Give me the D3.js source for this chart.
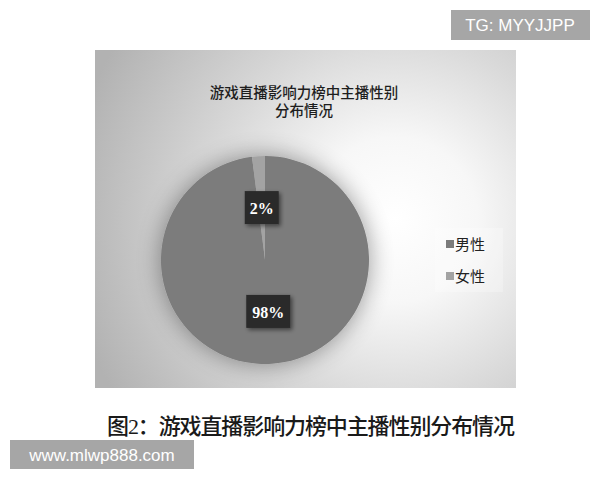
<!DOCTYPE html>
<html>
<head>
<meta charset="utf-8">
<script src="https://cdn.jsdelivr.net/npm/d3@7"></script>
<style>
  body { margin: 0; background: #fff; }
  svg { display: block; }
</style>
</head>
<body>
<svg width="600" height="480"></svg>
<script>
// data
const categories = ["男性", "女性"];
const shares = [98, 2];
const sliceColors = ["#7b7b7b", "#a3a3a3"];
const titleLines = ["游戏直播影响力榜中主播性别", "分布情况"];
const caption = "图2：游戏直播影响力榜中主播性别分布情况";

const svg = d3.select("svg");
const defs = svg.append("defs");

// chart area background, light spot to the right of the pie
const grad = defs.append("radialGradient")
    .attr("id", "bg").attr("gradientUnits", "userSpaceOnUse")
    .attr("cx", 395).attr("cy", 220).attr("r", 330);
grad.append("stop").attr("offset", 0).attr("stop-color", "#ffffff");
grad.append("stop").attr("offset", 0.25).attr("stop-color", "#f7f7f7");
grad.append("stop").attr("offset", 0.55).attr("stop-color", "#dadada");
grad.append("stop").attr("offset", 1).attr("stop-color", "#b2b2b2");

const shadow = defs.append("filter").attr("id", "pieShadow")
    .attr("x", "-30%").attr("y", "-30%").attr("width", "160%").attr("height", "160%");
shadow.append("feGaussianBlur").attr("in", "SourceAlpha").attr("stdDeviation", 12).attr("result", "b");
shadow.append("feComponentTransfer").attr("in", "b").attr("result", "s")
  .append("feFuncA").attr("type", "linear").attr("slope", 0.4);
const m = shadow.append("feMerge");
m.append("feMergeNode").attr("in", "s");
m.append("feMergeNode").attr("in", "SourceGraphic");

const boxShadow = defs.append("filter").attr("id", "boxShadow")
    .attr("x", "-30%").attr("y", "-30%").attr("width", "170%").attr("height", "170%");
boxShadow.append("feDropShadow").attr("dx", 2).attr("dy", 2).attr("stdDeviation", 2)
    .attr("flood-color", "#000").attr("flood-opacity", 0.5);

svg.append("rect")
    .attr("x", 95).attr("y", 50).attr("width", 421).attr("height", 338)
    .attr("fill", "url(#bg)");

// title
svg.append("text")
    .attr("x", 304).attr("y", 98)
    .attr("text-anchor", "middle")
    .attr("font-family", "'Liberation Serif', 'Noto Sans CJK SC', serif")
    .attr("font-size", 14.5).attr("font-weight", 500).attr("fill", "#1e1e1e")
  .selectAll("tspan").data(titleLines).join("tspan")
    .attr("x", 304).attr("dy", (d, i) => i ? 18 : 0)
    .text(d => d);

// pie
const cx = 265, cy = 260, radius = 104;
const pie = d3.pie().sort(null).value(d => d.v);
const arcs = pie(categories.map((c, i) => ({ name: c, v: shares[i] })));
const arc = d3.arc().innerRadius(0).outerRadius(radius);
const color = d3.scaleOrdinal().domain(categories).range(sliceColors);

const g = svg.append("g").attr("transform", `translate(${cx},${cy})`);
g.append("g").attr("filter", "url(#pieShadow)")
  .selectAll("path").data(arcs).join("path")
    .attr("d", arc)
    .attr("fill", d => color(d.data.name));

// data labels in dark boxes
const labels = g.selectAll("g.lbl").data(arcs).join("g")
    .attr("class", "lbl")
    .attr("transform", d => {
      const [x, y] = arc.centroid(d);
      return `translate(${x},${y})`;
    });
labels.append("rect")
    .attr("x", d => d.data.v >= 10 ? -22 : -17)
    .attr("y", -17)
    .attr("width", d => d.data.v >= 10 ? 44 : 34)
    .attr("height", 33)
    .attr("fill", "#2a2a2a")
    .attr("filter", "url(#boxShadow)");
labels.append("text")
    .attr("text-anchor", "middle").attr("dy", "0.35em")
    .attr("font-family", "'Liberation Serif', serif")
    .attr("font-weight", "bold")
    .attr("font-size", 16).attr("fill", "#fff")
    .text(d => d.data.v + "%");

// legend
svg.append("rect")
    .attr("x", 435).attr("y", 228).attr("width", 68).attr("height", 64)
    .attr("fill", "#ffffff").attr("opacity", 0.25);
const legend = svg.selectAll("g.leg").data(categories).join("g")
    .attr("class", "leg")
    .attr("transform", (d, i) => `translate(446,${245 + i * 32})`);
legend.append("rect")
    .attr("x", 0).attr("y", -5).attr("width", 8).attr("height", 8)
    .attr("fill", d => color(d));
legend.append("text")
    .attr("x", 9).attr("dy", "0.35em")
    .attr("font-family", "'Liberation Serif', 'Noto Sans CJK SC', serif")
    .attr("font-size", 15).attr("fill", "#222")
    .text(d => d);

// figure caption
svg.append("text")
    .attr("x", 311).attr("y", 426).attr("dy", "0.35em")
    .attr("text-anchor", "middle")
    .attr("font-family", "'Liberation Serif', 'Noto Sans CJK SC', serif")
    .attr("font-size", 22).attr("font-weight", 500).attr("fill", "#1a1a1a")
    .attr("textLength", 408).attr("lengthAdjust", "spacing")
    .text(caption);

// watermarks
svg.append("rect").attr("x", 451).attr("y", 10).attr("width", 139).attr("height", 30).attr("fill", "#a6a6a6");
svg.append("text").attr("x", 520).attr("y", 25).attr("dy", "0.35em")
    .attr("text-anchor", "middle")
    .attr("font-family", "'Liberation Sans', Arial, sans-serif")
    .attr("font-size", 17).attr("fill", "#fff")
    .text("TG: MYYJJPP");
svg.append("rect").attr("x", 10).attr("y", 440).attr("width", 184).attr("height", 29).attr("fill", "#a6a6a6");
svg.append("text").attr("x", 102).attr("y", 455).attr("dy", "0.35em")
    .attr("text-anchor", "middle")
    .attr("font-family", "'Liberation Sans', Arial, sans-serif")
    .attr("font-size", 17).attr("fill", "#fff")
    .text("www.mlwp888.com");
</script>
</body>
</html>
